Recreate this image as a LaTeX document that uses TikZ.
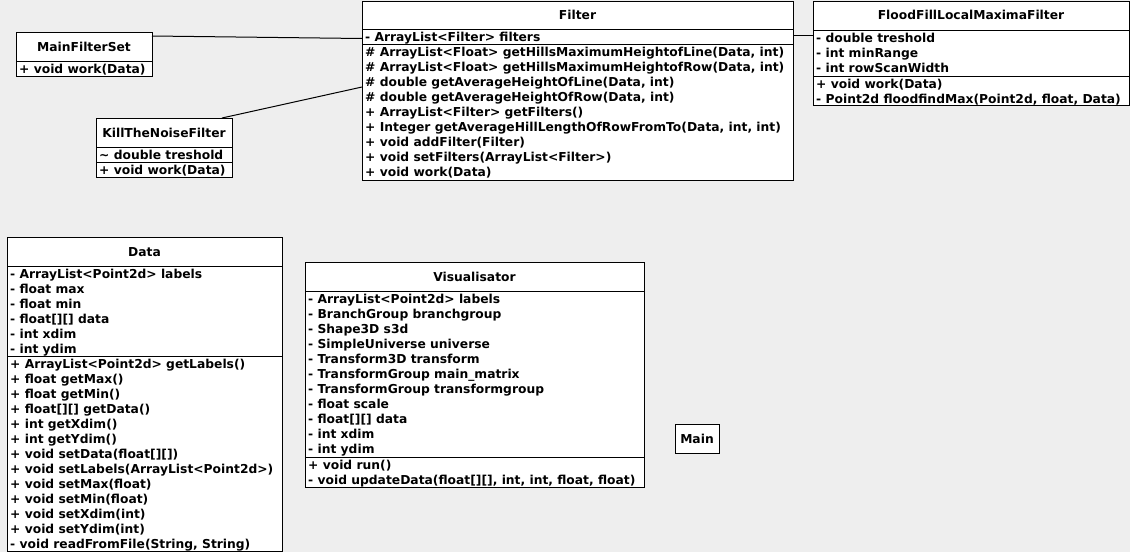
\documentclass[tikz,border=0pt]{standalone}
\usepackage{fontspec}
\setmainfont{DejaVu Sans}
\newcommand\umlf{\fontsize{12.3}{15}\selectfont\bfseries}
\tikzset{
  box/.style={draw=black, fill=white, line width=1pt, anchor=north west, inner sep=0pt, outer sep=0pt},
  row/.style={anchor=base west, inner sep=0pt, font=\umlf},
  ttl/.style={anchor=base, inner sep=0pt, font=\umlf},
  conn/.style={draw=black, line width=1pt},
  divl/.style={draw=black, line width=1pt}
}
\begin{document}
\begin{tikzpicture}[x=1pt,y=-1pt]
\useasboundingbox (0,0) rectangle (1130,552);
\fill[fill={rgb,255:red,238;green,238;blue,238}] (0,0) rectangle (1130,552);

% ---------- MainFilterSet
\node[box, minimum width=136pt, minimum height=44pt] (mfs) at (16,32) {};
\node[ttl] (mfsT) at (84,51) {MainFilterSet};
\draw[divl] (16,61) -- (152,61);
\node[row] (mfsM1) at (19,73) {+ void work(Data)};

% ---------- KillTheNoiseFilter
\node[box, minimum width=136pt, minimum height=59pt] (ktn) at (96,118) {};
\node[ttl] (ktnT) at (164,137) {KillTheNoiseFilter};
\draw[divl] (96,147) -- (232,147);
\draw[divl] (96,162) -- (232,162);
\node[row] (ktnA1) at (99,159) {\textasciitilde{} double treshold};
\node[row] (ktnM1) at (99,174) {+ void work(Data)};

% ---------- Filter
\node[box, minimum width=431pt, minimum height=179pt] (filter) at (362,1) {};
\node[ttl] (filterT) at (577.5,19) {Filter};
\draw[divl] (362,29) -- (793,29);
\draw[divl] (362,44) -- (793,44);
\node[row] (filterA1) at (365,41) {- ArrayList<Filter> filters};
\foreach \t [count=\i] in {
  {\# ArrayList<Float> getHillsMaximumHeightofLine(Data, int)},
  {\# ArrayList<Float> getHillsMaximumHeightofRow(Data, int)},
  {\# double getAverageHeightOfLine(Data, int)},
  {\# double getAverageHeightOfRow(Data, int)},
  {+ ArrayList<Filter> getFilters()},
  {+ Integer getAverageHillLengthOfRowFromTo(Data, int, int)},
  {+ void addFilter(Filter)},
  {+ void setFilters(ArrayList<Filter>)},
  {+ void work(Data)}}
  \node[row] (filterM\i) at (365,{44+12+15*(\i-1)}) {\t};

% ---------- FloodFillLocalMaximaFilter
\node[box, minimum width=316pt, minimum height=104pt] (flood) at (813,1) {};
\node[ttl] (floodT) at (971,19) {FloodFillLocalMaximaFilter};
\draw[divl] (813,30) -- (1129,30);
\draw[divl] (813,76) -- (1129,76);
\foreach \t [count=\i] in {
  {- double treshold},
  {- int minRange},
  {- int rowScanWidth}}
  \node[row] (floodA\i) at (816,{30+12+15*(\i-1)}) {\t};
\foreach \t [count=\i] in {
  {+ void work(Data)},
  {- Point2d floodfindMax(Point2d, float, Data)}}
  \node[row] (floodM\i) at (816,{76+12+15*(\i-1)}) {\t};

% ---------- Data
\node[box, minimum width=275pt, minimum height=314pt] (data) at (7,237) {};
\node[ttl] (dataT) at (144.5,256) {Data};
\draw[divl] (7,266) -- (282,266);
\draw[divl] (7,356) -- (282,356);
\foreach \t [count=\i] in {
  {- ArrayList<Point2d> labels},
  {- float max},
  {- float min},
  {- float[][] data},
  {- int xdim},
  {- int ydim}}
  \node[row] (dataA\i) at (10,{266+12+15*(\i-1)}) {\t};
\foreach \t [count=\i] in {
  {+ ArrayList<Point2d> getLabels()},
  {+ float getMax()},
  {+ float getMin()},
  {+ float[][] getData()},
  {+ int getXdim()},
  {+ int getYdim()},
  {+ void setData(float[][])},
  {+ void setLabels(ArrayList<Point2d>)},
  {+ void setMax(float)},
  {+ void setMin(float)},
  {+ void setXdim(int)},
  {+ void setYdim(int)},
  {- void readFromFile(String, String)}}
  \node[row] (dataM\i) at (10,{356+12+15*(\i-1)}) {\t};

% ---------- Visualisator
\node[box, minimum width=339pt, minimum height=225pt] (vis) at (305,262) {};
\node[ttl] (visT) at (474.5,281) {Visualisator};
\draw[divl] (305,291) -- (644,291);
\draw[divl] (305,457) -- (644,457);
\foreach \t [count=\i] in {
  {- ArrayList<Point2d> labels},
  {- BranchGroup branchgroup},
  {- Shape3D s3d},
  {- SimpleUniverse universe},
  {- Transform3D transform},
  {- TransformGroup main\_matrix},
  {- TransformGroup transformgroup},
  {- float scale},
  {- float[][] data},
  {- int xdim},
  {- int ydim}}
  \node[row] (visA\i) at (308,{291+12+15*(\i-1)}) {\t};
\foreach \t [count=\i] in {
  {+ void run()},
  {- void updateData(float[][], int, int, float, float)}}
  \node[row] (visM\i) at (308,{457+12+15*(\i-1)}) {\t};

% ---------- Main
\node[box, minimum width=44pt, minimum height=29pt] (mainc) at (675,424) {};
\node[ttl] (mainT) at (697,443) {Main};

% ---------- connectors
\draw[conn] ([yshift=-4pt]mfs.north east) -- ([yshift=-37.5pt]filter.north west);
\draw[conn] ([xshift=-10pt]ktn.north east) -- ([yshift=-86pt]filter.north west);
\draw[conn] ([yshift=-34pt]filter.north east) -- ([yshift=-34pt]flood.north west);
\end{tikzpicture}
\end{document}
